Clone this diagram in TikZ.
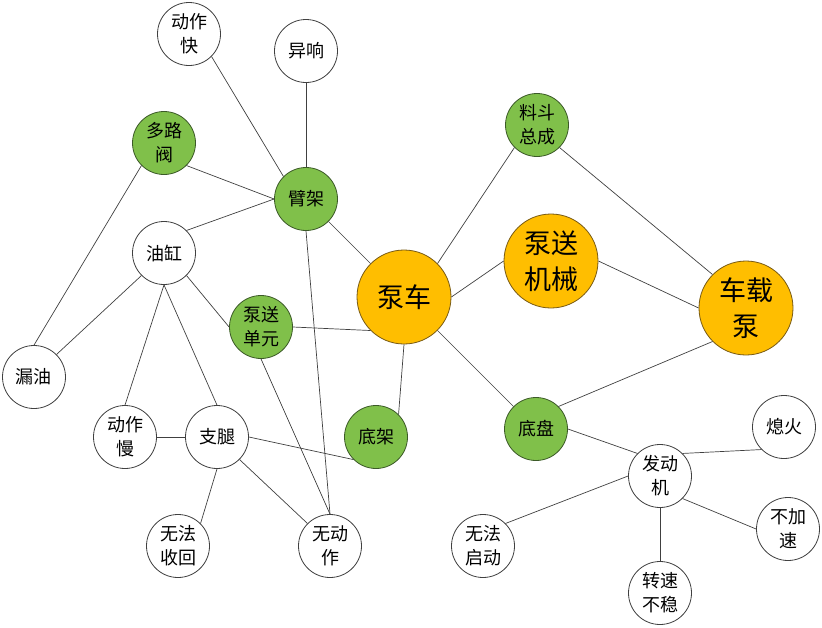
\documentclass[tikz,border=0pt]{standalone}
\usepackage{fontspec}
\newfontfamily\cjk{Noto Sans CJK SC}
\definecolor{gfill}{RGB}{128,192,74}
\definecolor{ofill}{RGB}{255,190,0}
\definecolor{gline}{RGB}{60,90,40}
\definecolor{oline}{RGB}{120,90,20}
\tikzset{
 base/.style={circle, draw=black!75, line width=0.8pt, inner sep=0pt, align=center, font=\cjk\fontsize{18}{24}\selectfont},
 wnode/.style={base, fill=white, minimum size=63pt},
 gnode/.style={base, fill=gfill, draw=gline, minimum size=63pt},
 onode/.style={base, fill=ofill, draw=oline, minimum size=94pt, font=\cjk\fontsize{27}{36}\selectfont},
 link/.style={draw=black!75, line width=0.7pt}
}
\begin{document}
\begin{tikzpicture}[x=1pt,y=-1pt]
\useasboundingbox (0,0) rectangle (822,627);
% nodes
\node[wnode] (dzk) at (189,34) {动作\\快};
\node[wnode] (yx) at (306,51) {异响};
\node[gnode] (dlf) at (164,143) {多路\\阀};
\node[gnode] (bj) at (306,199) {臂架};
\node[wnode] (yg) at (164,253) {油缸};
\node[gnode] (bsdy) at (261,327) {泵送\\单元};
\node[onode] (bc) at (404,297) {泵车};
\node[gnode] (ldzc) at (537,125) {料斗\\总成};
\node[onode] (bsjx) at (551,261) {泵送\\机械};
\node[onode] (czb) at (746,308) {车载\\泵};
\node[wnode] (ly) at (34,377) {漏油};
\node[wnode] (dzm) at (125,437) {动作\\慢};
\node[wnode] (zt) at (217,437) {支腿};
\node[gnode] (dj) at (376,437) {底架};
\node[gnode] (dp) at (536,429) {底盘};
\node[wnode] (xh) at (784,427) {熄火};
\node[wnode] (fdj) at (660,476) {发动\\机};
\node[wnode] (bjs) at (788,529) {不加\\速};
\node[wnode] (wfqd) at (483,546) {无法\\启动};
\node[wnode] (wdz) at (330,546) {无动\\作};
\node[wnode] (wfsh) at (178,546) {无法\\收回};
\node[wnode] (zsbw) at (660,593) {转速\\不稳};
% connectors
\draw[link] (dzk.south east) -- (bj.north west);
\draw[link] (yx.south) -- (bj.north);
\draw[link] (dlf.south east) -- (bj.west);
\draw[link] (yg.north east) -- (bj.west);
\draw[link] (bj.south east) -- (bc.north west);
\draw[link] (bj.south) -- (wdz.north);
\draw[link] (dlf.south west) -- (ly.north);
\draw[link] (yg.south west) -- (ly.north east);
\draw[link] (yg.south) -- (dzm.north);
\draw[link] (yg.south) -- (zt.north);
\draw[link] (yg.south east) -- (bsdy.west);
\draw[link] (bsdy.east) -- (bc.south west);
\draw[link] (bsdy.south) -- (wdz.north);
\draw[link] (dzm.east) -- (zt.west);
\draw[link] (zt.east) -- (dj.south west);
\draw[link] (zt.south) -- (wfsh.north east);
\draw[link] (zt.south east) -- (wdz.north west);
\draw[link] (bc.south) -- (dj.north east);
\draw[link] (bc.north east) -- (ldzc.south west);
\draw[link] (bc.east) -- (bsjx.west);
\draw[link] (bc.south east) -- (dp.north west);
\draw[link] (ldzc.south east) -- (czb.north west);
\draw[link] (bsjx.east) -- (czb.west);
\draw[link] (czb.south west) -- (dp.north east);
\draw[link] (dp.east) -- (fdj.north west);
\draw[link] (fdj.north east) -- (xh.south west);
\draw[link] (fdj.south east) -- (bjs.west);
\draw[link] (fdj.west) -- (wfqd.north east);
\draw[link] (fdj.south) -- (zsbw.north);
\end{tikzpicture}
\end{document}
